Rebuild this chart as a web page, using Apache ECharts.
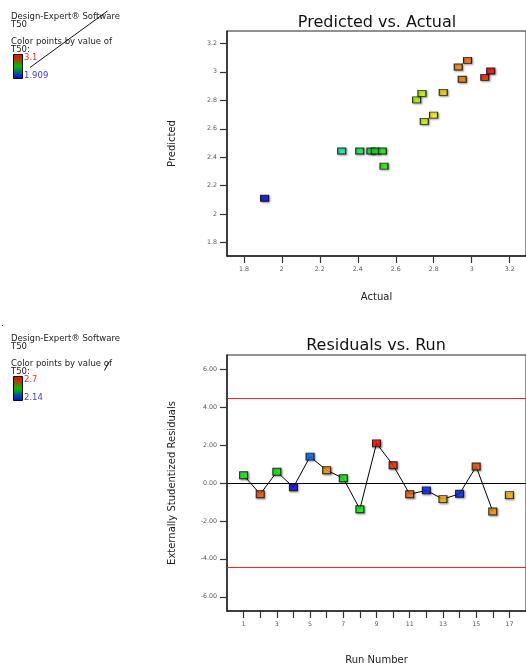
<!DOCTYPE html>
<html>
<head>
<meta charset="utf-8">
<style>
  html, body { margin: 0; padding: 0; background: #fff; }
  #chart { width: 526px; height: 666px; }
</style>
<script src="https://cdn.jsdelivr.net/npm/echarts@6/dist/echarts.min.js"></script>
</head>
<body>
<div id="chart"></div>
<script>
// Predicted vs. actual T50 values, one entry per run
const actualT50    = [1.909, 2.315, 2.410, 2.469, 2.492, 2.529, 2.538, 2.710, 2.738, 2.750, 2.799, 2.850, 2.929, 2.978, 2.950, 3.069, 3.100];
const predictedT50 = [2.112, 2.444, 2.444, 2.444, 2.444, 2.444, 2.338, 2.803, 2.848, 2.652, 2.696, 2.855, 3.033, 3.080, 2.947, 2.961, 3.005];

// Externally studentized residuals by run order
const runNumbers = [1, 2, 3, 4, 5, 6, 7, 8, 9, 10, 11, 12, 13, 14, 15, 16, 17];
const residuals  = [0.41, -0.59, 0.59, -0.22, 1.39, 0.67, 0.25, -1.38, 2.09, 0.94, -0.59, -0.39, -0.85, -0.57, 0.87, -1.50, -0.64];
const runT50     = [2.42, 2.655, 2.42, 2.14, 2.196, 2.616, 2.42, 2.42, 2.70, 2.678, 2.644, 2.16, 2.60, 2.16, 2.655, 2.616, 2.60];
const connectedRuns = 16;
const outlierLimit = 4.455;

// Colour scale ranges shown in the side legends
const actualColorRange = [1.909, 3.1];
const runColorRange = [2.14, 2.7];

// Tick labels
const paTicks = [1.8, 2.0, 2.2, 2.4, 2.6, 2.8, 3.0, 3.2];
const residTicks = [-6, -4, -2, 0, 2, 4, 6];
const runTicks = runNumbers;
const runLabels = [1, 3, 5, 7, 9, 11, 13, 15, 17];

const FONT = 'DejaVu Sans';
const ramp = ['#0000ff', '#00ffff', '#00ff00', '#ffff00', '#ff0000'];

const chart = echarts.init(document.getElementById('chart'), null, { renderer: 'canvas' });

function valueAxis(min, max, ticks, labels, fmt, name, gap, rotate) {
  return {
    type: 'value', min: min, max: max,
    name: name, nameLocation: 'middle', nameGap: gap, nameRotate: rotate,
    nameMoveOverlap: false,
    nameTextStyle: { fontFamily: FONT, fontSize: 10, color: '#222' },
    axisLine: { show: true, onZero: false, lineStyle: { color: '#222', width: 1.5 } },
    axisTick: { show: true, length: 7, customValues: ticks, lineStyle: { color: '#333', width: 1.2 } },
    axisLabel: { customValues: labels, fontFamily: FONT, fontSize: 6.3, color: '#555', margin: 10, formatter: fmt },
    splitLine: { show: false }
  };
}

const markerStyle = {
  borderColor: '#000', borderWidth: 1,
  shadowColor: 'rgba(0,0,0,0.45)', shadowBlur: 2, shadowOffsetX: 1, shadowOffsetY: 1
};

function legendBlock(top, hiText, loText) {
  const t = top;
  const txt = (s, x, y, color) => ({
    type: 'text', left: x, top: y,
    style: { text: s, font: '8.5px "' + FONT + '"', fill: color || '#222' }
  });
  return [
    txt('Design-Expert\u00AE Software', 11, t),
    txt('T50', 11, t + 8),
    txt('Color points by value of', 11, t + 25),
    txt('T50:', 11, t + 33),
    {
      type: 'rect', left: 13, top: t + 42,
      shape: { width: 9, height: 24 },
      style: {
        stroke: '#000', lineWidth: 1,
        fill: new echarts.graphic.LinearGradient(0, 0, 0, 1, [
          { offset: 0, color: '#ff0000' },
          { offset: 0.25, color: '#a04a00' },
          { offset: 0.5, color: '#00c000' },
          { offset: 0.75, color: '#006080' },
          { offset: 1, color: '#0000ff' }
        ])
      }
    },
    txt(hiText, 24, t + 41, '#ff2a2a'),
    txt(loText, 24, t + 59, '#3a3aff')
  ];
}

const option = {
  backgroundColor: '#fff',
  animation: false,
  textStyle: { fontFamily: FONT },
  grid: [
    { left: 227, top: 31, width: 300, height: 225, show: true, borderColor: '#222', borderWidth: 1 },
    { left: 227, top: 355, width: 299, height: 257, show: true, borderColor: '#222', borderWidth: 1 }
  ],
  xAxis: [
    Object.assign(valueAxis(1.711, 3.286, paTicks, paTicks, v => String(+v.toFixed(1)), 'Actual', 36, 0), { gridIndex: 0 }),
    Object.assign(valueAxis(0, 18, runTicks, runLabels, v => String(v), 'Run Number', 44, 0), { gridIndex: 1 })
  ],
  yAxis: [
    Object.assign(valueAxis(1.707, 3.286, paTicks, paTicks, v => String(+v.toFixed(1)), 'Predicted', 50, 90), { gridIndex: 0 }),
    Object.assign(valueAxis(-6.75, 6.75, residTicks, residTicks, v => v.toFixed(2), 'Externally Studentized Residuals', 50, 90), { gridIndex: 1 })
  ],
  visualMap: [
    { type: 'continuous', show: false, seriesIndex: 0, dimension: 0,
      min: actualColorRange[0], max: actualColorRange[1], inRange: { color: ramp } },
    { type: 'continuous', show: false, seriesIndex: 2, dimension: 2,
      min: runColorRange[0], max: runColorRange[1], inRange: { color: ramp } }
  ],
  series: [
    {
      type: 'scatter', xAxisIndex: 0, yAxisIndex: 0,
      symbol: 'rect', symbolSize: [8, 6],
      itemStyle: markerStyle,
      data: actualT50.map((a, i) => [a, predictedT50[i]])
    },
    {
      type: 'line', xAxisIndex: 1, yAxisIndex: 1,
      symbol: 'none', silent: true, z: 1,
      lineStyle: { color: '#000', width: 1 },
      data: runNumbers.slice(0, connectedRuns).map((r, i) => [r, residuals[i]]),
      markLine: {
        symbol: 'none', silent: true, label: { show: false },
        data: [
          { yAxis: outlierLimit, lineStyle: { color: '#ff2020', width: 1, type: 'solid' } },
          { yAxis: -outlierLimit, lineStyle: { color: '#ff2020', width: 1, type: 'solid' } },
          { yAxis: 0, lineStyle: { color: '#000', width: 1, type: 'solid' } }
        ]
      }
    },
    {
      type: 'scatter', xAxisIndex: 1, yAxisIndex: 1, z: 3,
      symbol: 'rect', symbolSize: [8, 7],
      itemStyle: markerStyle,
      data: runNumbers.map((r, i) => [r, residuals[i], runT50[i]])
    }
  ],
  graphic: [
    { type: 'text', x: 377, y: 23, style: { text: 'Predicted vs. Actual', font: '16px "' + FONT + '"', fill: '#111', align: 'center', verticalAlign: 'middle' } },
    { type: 'text', x: 376, y: 346, style: { text: 'Residuals vs. Run', font: '16px "' + FONT + '"', fill: '#111', align: 'center', verticalAlign: 'middle' } },
    ...legendBlock(12, '3.1', '1.909'),
    ...legendBlock(334, '2.7', '2.14'),
    { type: 'line', shape: { x1: 30, y1: 67.5, x2: 107.5, y2: 11 }, style: { stroke: '#111', lineWidth: 1 } },
    { type: 'line', shape: { x1: 104.5, y1: 370.5, x2: 109, y2: 362 }, style: { stroke: '#111', lineWidth: 1 } },
    { type: 'rect', shape: { x: 2, y: 325, width: 1, height: 1 }, style: { fill: '#333' } }
  ]
};

chart.setOption(option);
</script>
</body>
</html>
